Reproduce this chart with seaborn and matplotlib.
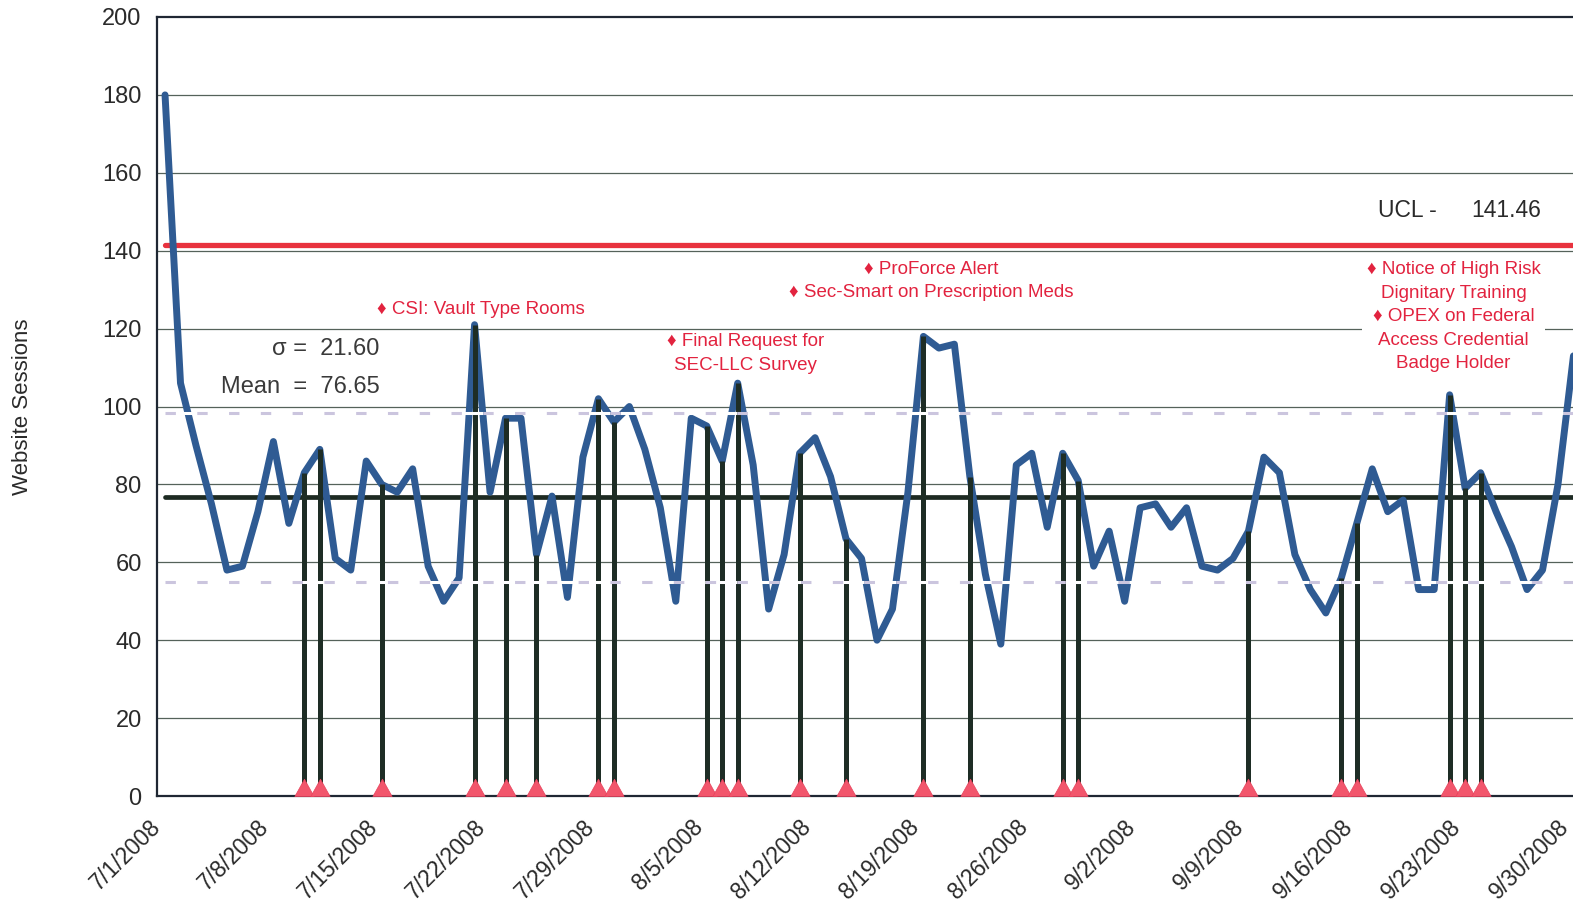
import numpy as np
import pandas as pd
import seaborn as sns
import matplotlib
matplotlib.use("Agg")
import matplotlib.pyplot as plt
from matplotlib.path import Path

# daily website sessions, 7/1/2008 - 9/30/2008
dates = pd.date_range("2008-07-01", "2008-09-30", freq="D")
sessions = [180, 106, 90, 75, 58, 59, 73, 91, 70, 83,
            89, 61, 58, 86, 80, 78, 84, 59, 50, 56,
            121, 78, 97, 97, 62, 77, 51, 87, 102, 96,
            100, 89, 74, 50, 97, 95, 86, 106, 85, 48,
            62, 88, 92, 82, 66, 61, 40, 48, 78, 118,
            115, 116, 82, 57, 39, 85, 88, 69, 88, 81,
            59, 68, 50, 74, 75, 69, 74, 59, 58, 61,
            68, 87, 83, 62, 53, 47, 56, 70, 84, 73,
            76, 53, 53, 103, 79, 83, 73, 64, 53, 58,
            80, 113]

# days with a communication sent out (stems)
event_dates = ["2008-07-10", "2008-07-11", "2008-07-15", "2008-07-21", "2008-07-23",
               "2008-07-25", "2008-07-29", "2008-07-30", "2008-08-05", "2008-08-06",
               "2008-08-07", "2008-08-11", "2008-08-14", "2008-08-19", "2008-08-22",
               "2008-08-28", "2008-08-29", "2008-09-09", "2008-09-15", "2008-09-16",
               "2008-09-22", "2008-09-23", "2008-09-24"]

mean_val = 76.65
sigma = 21.60
ucl = 141.46

df = pd.DataFrame({"date": dates, "sessions": sessions})
df["day"] = (df["date"] - df["date"].iloc[0]).dt.days
ev = df[df["date"].isin(pd.to_datetime(event_dates))]

sns.set_style("white")
plt.rcParams["font.family"] = ["Liberation Sans", "DejaVu Sans"]

fig = plt.figure(figsize=(15.73, 9.09), dpi=100)
ax = fig.add_axes([0.0998, 0.1243, 0.9002, 0.857])

# grid
for v in range(20, 200, 20):
    ax.axhline(v, color="#55625a", lw=0.9, zorder=1)

first, last = df["day"].iloc[0], df["day"].iloc[-1]
# control lines
ax.plot([first, last], [ucl, ucl], color="#e8323e", lw=3.8, zorder=2)
ax.plot([first, last], [mean_val, mean_val], color="#1d2a22", lw=3.4, zorder=2)

sns.lineplot(data=df, x="day", y="sessions", ax=ax, color="#2f5b93", lw=5.0,
             zorder=3, legend=False)

# stems + triangle markers sitting on the axis
ax.vlines(ev["day"], 0, ev["sessions"], color="#1e2d25", lw=3.6, zorder=4)
tri = Path([(-1, 0), (1, 0), (0, 1.8), (-1, 0)], closed=True)
ax.scatter(ev["day"], np.zeros(len(ev)), marker=tri, s=620,
           color="#f2566c", edgecolor="#e8425c", linewidth=0.5, zorder=5,
           clip_on=False)

# +/- 1 sigma dashed lines
for v in (mean_val + sigma, mean_val - sigma):
    ax.plot([first, last], [v, v], color="#cbc5de", lw=2.2, ls=(0, (3.4, 7.0)),
            gapcolor="white", zorder=6)

ax.set_xlim(-0.52, 90.97)
ax.set_ylim(0, 200)
ax.set_yticks(range(0, 201, 20))
ticks = df["day"].iloc[::7]
ax.set_xticks(ticks - 0.5)
ax.set_xticklabels([f"{d.month}/{d.day}/{d.year}" for d in df["date"].iloc[::7]],
                   rotation=45, ha="right", va="center", rotation_mode="anchor")
ax.tick_params(axis="x", labelsize=16.5, colors="#2a2a2a", length=6, width=1.2,
               direction="out", pad=14)
ax.tick_params(axis="y", labelsize=17, colors="#2a2a2a", length=5, width=1.0,
               direction="out", pad=6)
ax.set_xlabel("")
ax.set_ylabel("Website Sessions", fontsize=16, color="#2a2a2a", labelpad=50)

for s in ("left", "bottom", "top"):
    ax.spines[s].set_color("#1f2733")
    ax.spines[s].set_linewidth(1.6)
ax.spines["right"].set_visible(False)

# statistics text
ax.text(13.85, 114.8, "σ =  21.60", ha="right", va="center", fontsize=17, color="#3a3a3a")
ax.text(13.85, 105.0, "Mean  =  76.65", ha="right", va="center", fontsize=17, color="#3a3a3a")
ax.text(78.4, 150.2, "UCL -", ha="left", va="center", fontsize=16.5, color="#2a2a2a")
ax.text(84.4, 150.2, "141.46", ha="left", va="center", fontsize=16.5, color="#2a2a2a")

red = "#e2233f"
ax.text(20.4, 124.9, "♦ CSI: Vault Type Rooms", ha="center", va="center",
        fontsize=13.5, color=red)
ax.text(37.5, 113.6, "♦ Final Request for\nSEC-LLC Survey", ha="center", va="center",
        multialignment="center", fontsize=13.5, color=red, linespacing=1.5)
ax.text(49.5, 132.3, "♦ ProForce Alert\n♦ Sec-Smart on Prescription Meds", ha="center",
        va="center", multialignment="center", fontsize=13.5, color=red, linespacing=1.5)
ax.text(83.25, 123.1,
        "♦ Notice of High Risk\nDignitary Training\n♦ OPEX on Federal\nAccess Credential\nBadge Holder",
        ha="center", va="center", multialignment="center", fontsize=13.5, color=red,
        linespacing=1.5, zorder=7,
        bbox=dict(facecolor="white", edgecolor="none", pad=3))

fig.savefig("out.png", dpi=100)
